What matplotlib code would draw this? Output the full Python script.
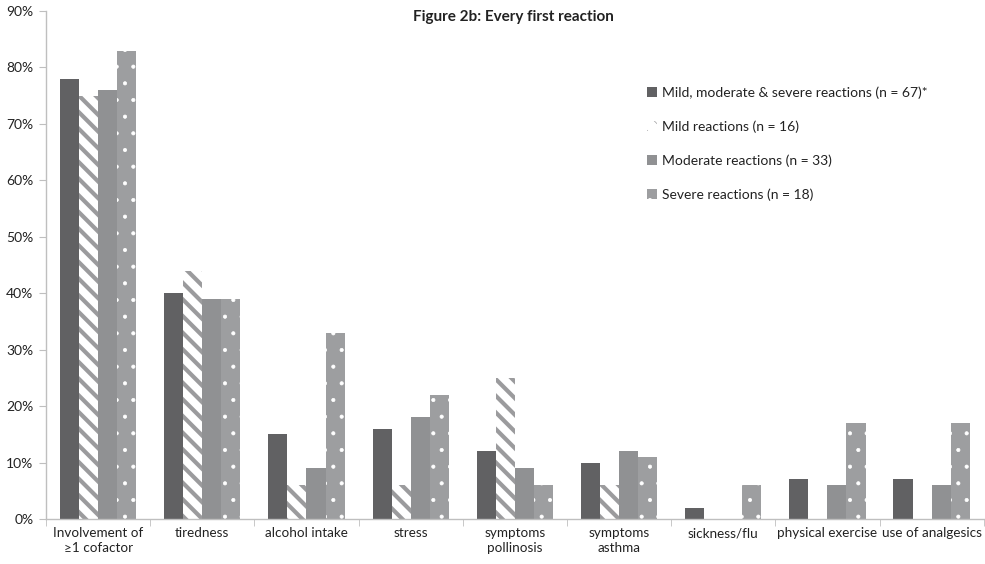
import matplotlib
matplotlib.use("Agg")
import matplotlib.pyplot as plt
import numpy as np
from matplotlib.ticker import PercentFormatter, FixedLocator

plt.rcParams['font.family'] = ['Lato', 'DejaVu Sans']

categories = ["Involvement of\n\u22651 cofactor", "tiredness", "alcohol intake", "stress",
              "symptoms\npollinosis", "symptoms\nasthma", "sickness/flu",
              "physical exercise", "use of analgesics"]

all_reactions = [78, 40, 15, 16, 12, 10, 2, 7, 7]
mild = [75, 44, 6, 6, 25, 6, 0, 0, 0]
moderate = [76, 39, 9, 18, 9, 12, 0, 6, 6]
severe = [83, 39, 33, 22, 6, 11, 6, 17, 17]

labels = ["Mild, moderate & severe reactions (n = 67)*",
          "Mild reactions (n = 16)",
          "Moderate reactions (n = 33)",
          "Severe reactions (n = 18)"]

fig = plt.figure(figsize=(9.85, 5.64), dpi=100)
ax = fig.add_axes([0.0467, 0.0798, 0.952, 0.9007])

x = np.arange(len(categories))
w = 0.183
offs = np.array([-1.5, -0.5, 0.5, 1.5]) * w

ax.bar(x + offs[0], all_reactions, w, color="#616163", linewidth=0, label=labels[0])

plt.rcParams['hatch.linewidth'] = 3.0
b_mild = ax.bar(x + offs[1], mild, w, facecolor="white", edgecolor="#9b9b9d", hatch="\\\\",
                linewidth=0, label=labels[1])

ax.bar(x + offs[2], moderate, w, color="#909193", linewidth=0, label=labels[2])

plt.rcParams['hatch.linewidth'] = 0.5
b_sev = ax.bar(x + offs[3], severe, w, facecolor="#9d9ea0", edgecolor="white", hatch=".",
               linewidth=0, label=labels[3])

for p in b_mild:
    if hasattr(p, "set_hatch_linewidth"):
        p.set_hatch_linewidth(3.0)
for p in b_sev:
    if hasattr(p, "set_hatch_linewidth"):
        p.set_hatch_linewidth(0.5)

ax.set_xlim(-0.5, len(categories) - 0.5)
ax.set_ylim(0, 90)
ax.set_yticks(np.arange(0, 91, 10))
ax.yaxis.set_major_formatter(PercentFormatter(decimals=0))
ax.set_xticks(x)
ax.set_xticklabels(categories, fontsize=9.7, color="#222222", linespacing=1.3)
ax.tick_params(axis='x', length=0, pad=6)
ax.xaxis.set_minor_locator(FixedLocator(np.arange(-0.5, len(categories), 1.0)))
ax.tick_params(axis='x', which='minor', length=5, color="#bfbfbf")
ax.tick_params(axis='y', length=5, color="#bfbfbf", labelsize=10, labelcolor="#222222", pad=4)

for s in ["top", "right"]:
    ax.spines[s].set_visible(False)
for s in ["left", "bottom"]:
    ax.spines[s].set_color("#bfbfbf")
    ax.spines[s].set_linewidth(1.0)

fig.text(0.521, 0.97, "Figure 2b: Every first reaction", ha="center", va="center",
         fontsize=11, fontweight="bold", color="#222222")

leg = ax.legend(loc="upper left", bbox_to_anchor=(0.644, 0.869), bbox_transform=fig.transFigure,
                frameon=False, fontsize=10, handlelength=0.7, handleheight=0.7,
                handletextpad=0.4, labelspacing=1.55)
for t in leg.get_texts():
    t.set_color("#222222")

fig.savefig("out.png", dpi=100)
